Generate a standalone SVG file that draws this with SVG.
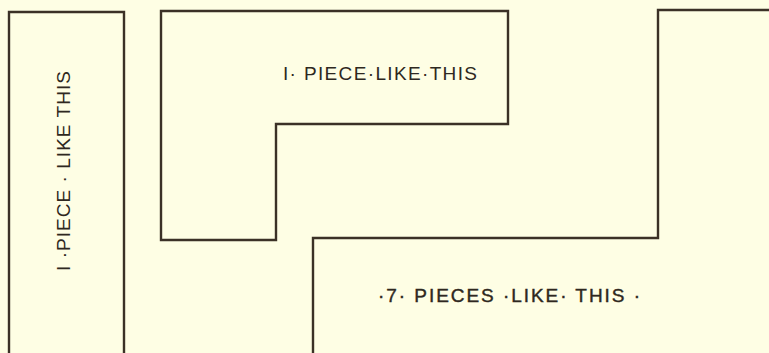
<svg xmlns="http://www.w3.org/2000/svg" width="769" height="353" viewBox="0 0 769 353">
<style>
.edge{fill:none;stroke:#3b3126;stroke-width:2.4;stroke-linejoin:miter;stroke-linecap:square}
.lbl{font-family:"Liberation Sans",Arial,sans-serif;font-size:19px;fill:#2e2820;text-anchor:middle}
</style>
<rect x="0" y="0" width="769" height="353" fill="#fefee4"/>
<g id="piece-left">
<path class="edge" d="M9,354 V12 H124 V354"/>
<text class="lbl" transform="translate(70,171) rotate(-90)" x="0" y="0" textLength="200" lengthAdjust="spacing">I ·PIECE · LIKE THIS</text>
</g>
<g id="piece-middle">
<path class="edge" d="M161,11 H508 V124 H276 V240 H161 Z"/>
<text class="lbl" x="380" y="80" textLength="194" lengthAdjust="spacing">I· PIECE·LIKE·THIS</text>
</g>
<g id="piece-right">
<path class="edge" d="M313,354 V238 H658 V10 H770"/>
<text class="lbl" x="509" y="302" textLength="262" lengthAdjust="spacing" style="stroke:#2e2820;stroke-width:0.4">·7· PIECES ·LIKE· THIS ·</text>
</g>
<g id="connectors"/>
</svg>
